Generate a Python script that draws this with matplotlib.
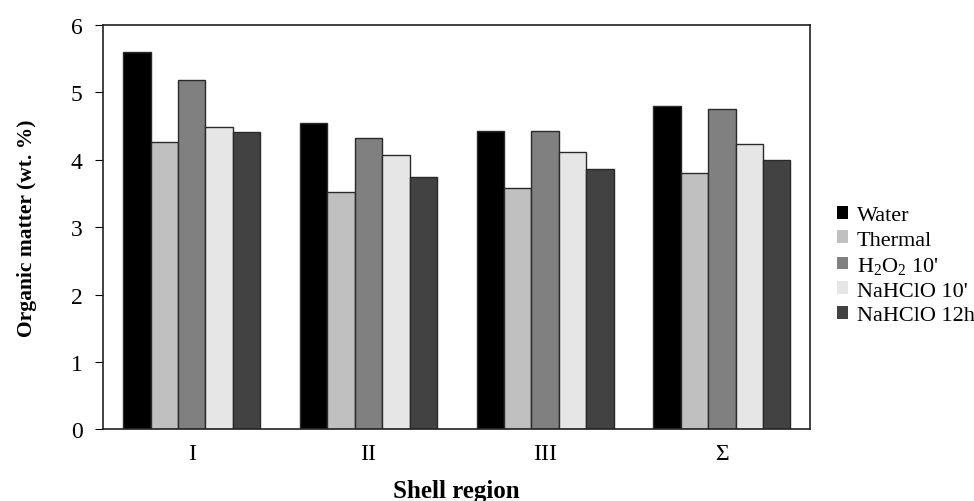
import matplotlib
matplotlib.use("Agg")
import matplotlib.pyplot as plt
from matplotlib.patches import Patch
import numpy as np

plt.rcParams['font.family'] = ['Liberation Serif', 'DejaVu Serif']
plt.rcParams['mathtext.fontset'] = 'custom'
plt.rcParams['mathtext.rm'] = 'Liberation Serif'
plt.rcParams['mathtext.it'] = 'Liberation Serif:italic'

regions = ['I', 'II', 'III', 'Σ']
treatments = ['Water', 'Thermal', "H$_2$O$_2$ 10'", "NaHClO 10'", 'NaHClO 12h']
water = [5.60, 4.54, 4.43, 4.80]
thermal = [4.27, 3.52, 3.58, 3.80]
h2o2_10 = [5.18, 4.32, 4.43, 4.75]
naclo_10 = [4.48, 4.07, 4.11, 4.23]
naclo_12h = [4.41, 3.75, 3.86, 4.00]
series = [water, thermal, h2o2_10, naclo_10, naclo_12h]
colors = ['#000000', '#c0c0c0', '#808080', '#e6e6e6', '#424242']

fig = plt.figure(figsize=(9.74, 5.02), dpi=100)
ax = fig.add_axes([0.106, 0.143, 0.726, 0.805])

x = np.arange(len(regions))
w = 0.155
for i, (vals, c) in enumerate(zip(series, colors)):
    ax.bar(x + (i - 2) * w, vals, w, color=c, edgecolor='#2a2a2a', linewidth=1.0)

ax.set_xlim(-0.5, 3.5)
ax.set_ylim(0, 6)
ax.set_xticks(x)
ax.set_xticklabels(regions, fontsize=17)
ax.tick_params(axis='x', length=0, pad=10)
ax.tick_params(axis='y', direction='out', length=6, labelsize=17, pad=9)
for s in ax.spines.values():
    s.set_linewidth(1.2)
    s.set_color('#222222')

ax.set_ylabel('Organic matter (wt. %)', fontsize=15.5, fontweight='bold')
ax.yaxis.set_label_coords(-0.094, 0.5)
ax.set_xlabel('Shell region', fontsize=18, fontweight='bold', va='baseline')
ax.xaxis.set_label_coords(0.5, -0.168)

# legend squares have no outline in the reference
handles = [Patch(facecolor=c, edgecolor='none') for c in colors]
ax.legend(handles, treatments, loc='center left', bbox_to_anchor=(1.037, 0.405),
          frameon=False, fontsize=16, handlelength=0.5, handleheight=0.5,
          handletextpad=0.4, labelspacing=0.24, borderpad=0, borderaxespad=0)

fig.savefig('out.png', dpi=100)
